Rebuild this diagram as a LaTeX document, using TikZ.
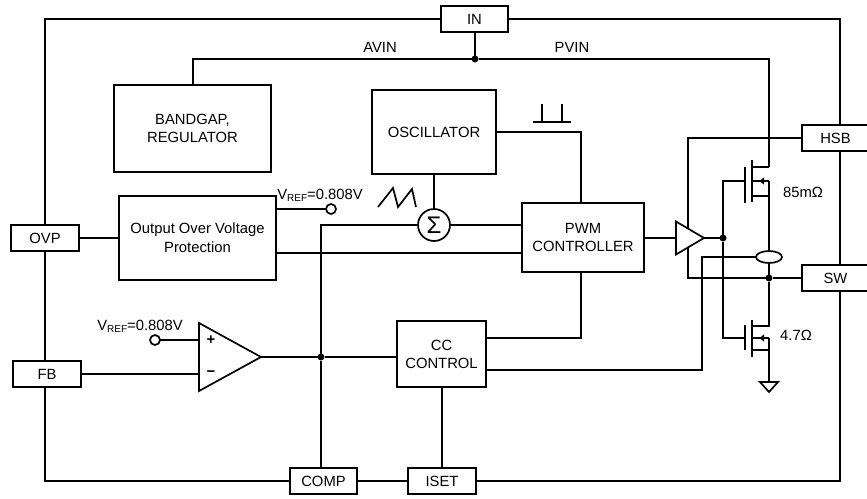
\documentclass[tikz,border=0pt]{standalone}
\usepackage{fontspec}
\setmainfont{Liberation Sans}
\usepackage{tikz}
\usetikzlibrary{arrows.meta,shapes.geometric}

\newcommand{\vrefval}{V\raisebox{-2pt}{\fontsize{10}{10}\selectfont REF}=0.808V}

\begin{document}
\begin{tikzpicture}
          [x=1pt,y=-1pt,line width=1.7pt,font=\fontsize{14.8}{18}\selectfont,inner sep=0pt,outer sep=0pt]
          \tikzstyle{pinbox}=[draw=black,fill=white,minimum width=67.5pt,minimum height=25.5pt]
          \tikzstyle{blockbox}=[draw=black,fill=white,align=center]
          \tikzstyle{junction}=[circle,fill=black,minimum size=7pt]
          \tikzstyle{term}=[circle,draw=black,fill=white,minimum size=10pt]
          \tikzstyle{amp}=[isosceles triangle,isosceles triangle stretches,draw=black,fill=white,anchor=apex]

          \useasboundingbox (0,0) rectangle (867,498);

          % pins
          \node[pinbox] (in) at (474.5,19) {IN};
          \node[pinbox] (hsb) at (835.5,138) {HSB};
          \node[pinbox] (sw) [below of = hsb,node distance=140pt] {SW};
          \node[pinbox] (ovp) at (45,238) {OVP};
          \node[pinbox] (fb) at (47,374) {FB};
          \node[pinbox] (comp) at (323.5,481) {COMP};
          \node[pinbox] (iset) [right of = comp,node distance=118.5pt] {ISET};

          % blocks
          \node[blockbox,minimum width=157pt,minimum height=87pt] (bandgap) at (192.5,128.5) {BANDGAP,\\REGULATOR};
          \node[blockbox,minimum width=124pt,minimum height=84pt] (osc) at (434,132) {OSCILLATOR};
          \node[blockbox,minimum width=157pt,minimum height=84pt] (prot) at (197.5,238) {Output Over Voltage\\[1pt]Protection};
          \node[blockbox,minimum width=122pt,minimum height=69pt] (pwm) at (583,237.5) {PWM\\CONTROLLER};
          \node[blockbox,minimum width=89pt,minimum height=66pt] (cc) at (441.5,354) {CC\\CONTROL};
          \node[circle,draw=black,fill=white,minimum size=32pt,font=\fontsize{24}{24}\selectfont] (sum) [below of = osc,node distance=93pt] {Σ};

          % amplifiers
          \node[amp,minimum width=68pt,minimum height=62pt] (opamp) at (261,357) {};
          \node[amp,minimum width=33pt,minimum height=28pt] (buf) at (704,238) {};
          \node (plus) at (211,340) {\textbf{+}};
          \node (minus) at (211,374) {\textbf{−}};

          % labels
          \node (avin) at (380,47) {AVIN};
          \node (pvin) at (572,47) {PVIN};
          \node (vrefa) at (320,195) {\vrefval};
          \node (vrefb) at (140,326) {\vrefval};
          \node (ronh) at (803,192) {85mΩ};
          \node (ronl) at (796,335) {4.7Ω};

          % junctions and terminals
          \node[junction] (jvin) at (475,59) {};
          \node[junction] (jcomp) at (321,357) {};
          \node[junction] (jgate) at (723,238) {};
          \node[junction] (jsw) at (769,278) {};
          \node[term] (terma) at (331,209) {};
          \node[term] (termb) at (155,340) {};
          \node[ellipse,draw=black,fill=white,minimum width=26pt,minimum height=12pt] (sense) at (769,257) {};

          \coordinate (railnw) at (45,19);
          \coordinate (railne) at (840,19);
          \coordinate (railsw) at (45,481);
          \coordinate (railse) at (840,481);
          \coordinate (bgtop) at (193,85);
          \coordinate (hdrain) at (769,167);
          \coordinate (hsrc) at (769,181);
          \coordinate (ldrain) at (769,326);
          \coordinate (lsrc) at (769,338);
          \coordinate (gnd) at (769,382);
          \coordinate (bufn) at (688,229);
          \coordinate (bufs) at (688,247);
          \coordinate (senseturn) at (702,370);
          \coordinate (protout) at (276,253);
          \coordinate (pwmtop) at (581,203);
          \coordinate (pwmbot) at (581,272);

          % outer rail
          \draw (in.west) -- (railnw) -- (railnw |- ovp.north);
          \draw (railnw |- ovp.south) -- (railnw |- fb.north);
          \draw (railnw |- fb.south) -- (railsw) -- (comp.west);
          \draw (iset.east) -- (railse) -- (railse |- sw.south);
          \draw (railse |- sw.north) -- (railse |- hsb.south);
          \draw (railse |- hsb.north) -- (railne) -- (in.east);

          \path
          (comp.east) edge (iset.west)
          (in.south -| jvin) edge (jvin)
          (osc.south) edge (sum.north)
          (ovp.east) edge (ovp.east -| prot.west)
          (terma.west) edge (terma.west -| prot.east)
          (protout) edge (protout -| pwm.west)
          (sum.east) edge (sum.east -| pwm.west)
          (buf.lower side -| pwm.east) edge (buf.lower side)
          (buf.apex) edge (jgate)
          (termb.east) edge (termb.east -| opamp.lower side)
          (fb.east) edge (fb.east -| opamp.lower side)
          (opamp.apex) edge (jcomp)
          (jcomp) edge (jcomp -| cc.west)
          (jcomp) edge (jcomp |- comp.north)
          (cc.south -| iset.north) edge (iset.north)
          ;

          % supply and switch node
          \draw (bgtop) |- (jvin) -| (hdrain);
          \draw (hdrain) -- (752,167);
          \draw (sense.south) -- (jsw) -- (ldrain) -- (752,326);
          \draw (752,196) -- (769,196) -- (sense.north);
          \draw (752,350) -- (769,350) -- (gnd);
          \draw (hsrc) -- (769,196);
          \draw (lsrc) -- (769,350);
          \draw (gnd) -- (760,382) -- (769,392) -- (778,382) -- cycle;

          % power stage
          \draw (745,167) -- (745,203);
          \draw (752,160) -- (752,202);
          \draw (745,325) -- (745,350);
          \draw (752,320) -- (752,357);
          \draw (jgate) |- (745,181);
          \draw (jgate) |- (745,338);
          \draw (hsrc) -- (752,181);
          \draw (lsrc) -- (752,338);
          \draw[-{Latex[length=5pt,width=8pt]}] (hsrc) -- (759,181);
          \draw[-{Latex[length=5pt,width=8pt]}] (lsrc) -- (759,338);

          % driver and control
          \draw (hsb.west) -| (bufn);
          \draw (sw.west) -- (jsw) -| (bufs);
          \draw (sense.west) -| (senseturn) -- (senseturn -| cc.east);
          \draw (osc.east) -| (pwmtop);
          \draw (pwmbot) |- (cc.east |- 0,338);
          \draw (sum.west) -| (jcomp);

          % waveforms
          \draw (533,122) -- (571,122);
          \draw (542,122) -- (542,104);
          \draw (562,122) -- (562,104);
          \draw (378,207) -- (393,188) -- (398,207) -- (412,189) -- (416,207);
        \end{tikzpicture}
\end{document}
